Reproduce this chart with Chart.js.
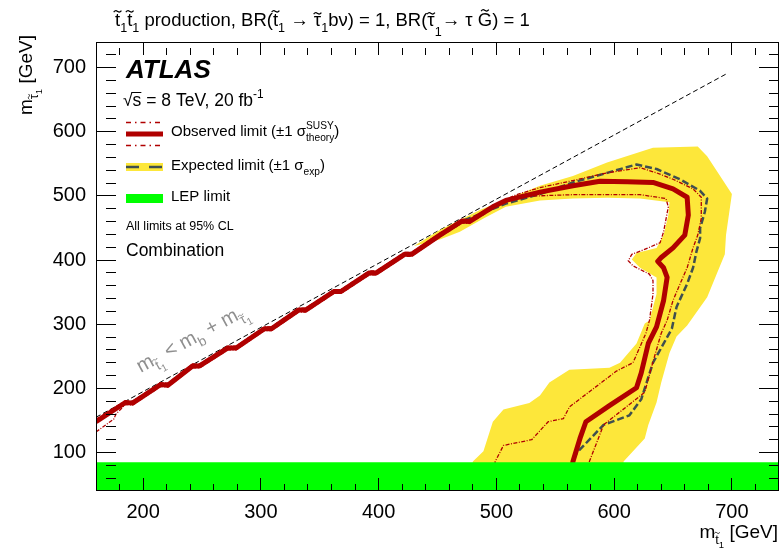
<!DOCTYPE html>
<html><head><meta charset="utf-8">
<script src="https://cdn.jsdelivr.net/npm/chart.js@4.4.0/dist/chart.umd.min.js"></script>
<style>html,body{margin:0;padding:0;background:#fff}#wrap{width:781px;height:555px}</style>
</head><body><div id="wrap"><canvas id="c" width="781" height="555"></canvas></div>
<script>
// ---- data (GeV) ----
const xTicks = [200, 300, 400, 500, 600, 700];
const yTicks = [100, 200, 300, 400, 500, 600, 700];
const xMinorTicks = [180, 220, 240, 260, 280, 320, 340, 360, 380, 420, 440, 460, 480, 520, 540, 560, 580, 620, 640, 660, 680, 720];
const yMinorTicks = [60, 80, 120, 140, 160, 180, 220, 240, 260, 280, 320, 340, 360, 380, 420, 440, 460, 480, 520, 540, 560, 580, 620, 640, 660, 680, 720];
const xRange = [160, 740];
const yRange = [40, 740];
const lepLimit = [[160, 85], [740, 85]];
const kinematicLimit = [[160, 155], [695, 690]];
const observed = [[160,148],[185,178],[191,177],[215,206],[221,205],[242,235],[248,235],[272,263],[279,263],[303,293],[309,293],[332,322],[338,322],[362,351],[368,351],[392,380],[398,380],[422,409],[428,409],[452,439],[471,461],[477,460],[497,483],[508,493],[537,506],[565,516],[588,523],[611,522],[633,521],[650,511],[662,498],[663,470],[660,439],[650,419],[640,404],[637,398],[642,388],[645,373],[642,337],[636,296],[629,270],[623,224],[619,201],[596,173],[576,148],[571,122],[565,86],[562,40]];
const observedPlus1 = [[160,152],[185,181],[191,180],[215,209],[221,208],[242,238],[248,238],[272,266],[279,266],[303,296],[309,296],[332,325],[338,325],[362,354],[368,354],[392,383],[398,383],[422,412],[428,412],[452,442],[471,463],[477,463],[497,485],[517,502],[537,513],[565,524],[594,536],[622,544],[636,536],[650,526],[667,511],[674,498],[674,465],[671,439],[667,419],[662,388],[656,363],[650,337],[645,306],[640,286],[632,235],[626,194],[591,143],[579,86],[576,40]];
const observedMinus1 = [[160,132],[175,152],[177,160],[185,175],[191,174],[215,203],[221,202],[242,232],[248,232],[272,260],[279,260],[303,290],[309,290],[332,319],[338,319],[362,348],[368,348],[392,377],[398,377],[422,406],[428,406],[452,436],[471,458],[477,457],[497,480],[517,499],[565,502],[622,502],[644,496],[646,483],[642,444],[639,427],[625,416],[615,409],[612,399],[616,391],[630,378],[633,368],[633,347],[630,306],[627,286],[622,265],[616,240],[602,227],[562,171],[557,153],[544,148],[530,120],[506,111],[499,86],[497,40]];
const expected = [[160,148],[185,178],[191,177],[215,206],[221,205],[242,235],[248,235],[272,263],[279,263],[303,293],[309,293],[332,322],[338,322],[362,351],[368,351],[392,380],[398,380],[422,409],[428,409],[452,439],[471,461],[488,473],[508,488],[537,503],[565,521],[594,536],[619,549],[636,542],[656,526],[673,508],[679,496],[677,475],[673,450],[673,434],[670,414],[667,388],[662,363],[653,327],[649,293],[633,240],[623,183],[613,158],[591,143],[568,99],[565,86],[564,40]];
const expectedBand = [[430,422],[452,447],[486,478],[537,516],[565,531],[594,552],[633,575],[671,577],[679,562],[700,503],[695,439],[694,409],[687,378],[679,342],[662,298],[653,281],[647,255],[640,209],[636,178],[629,143],[626,122],[608,86],[606,40],[478,40],[480,86],[489,102],[497,148],[506,167],[528,177],[537,189],[545,209],[562,229],[596,232],[605,240],[619,270],[626,301],[630,306],[636,347],[636,373],[622,388],[615,401],[619,411],[636,419],[642,439],[646,470],[647,490],[622,496],[594,497],[565,496],[537,493],[508,483],[489,465],[469,444],[452,432],[430,422]];

const FONT = "'Liberation Sans', Arial, Helvetica, sans-serif";
const xy = a => a.map(p => ({x: p[0], y: p[1]}));
const allX = xTicks.concat(xMinorTicks).sort((a, b) => a - b);
const allY = yTicks.concat(yMinorTicks).sort((a, b) => a - b);

function drawTilde(ctx, cx, cy, w, a, lw) {
  ctx.save();
  ctx.setLineDash([]);
  ctx.lineWidth = lw;
  ctx.beginPath();
  ctx.moveTo(cx - w / 2, cy + a * 0.6);
  ctx.bezierCurveTo(cx - w / 4, cy - a * 1.6, cx - w / 8, cy - a * 0.6, cx, cy);
  ctx.bezierCurveTo(cx + w / 8, cy + a * 0.6, cx + w / 4, cy + a * 1.6, cx + w / 2, cy - a * 0.6);
  ctx.stroke();
  ctx.restore();
}

// runs: {t, lv (0 normal, -1 sub, -2 subsub, 1 sup), tilde, hold, style, dy}
function drawRich(ctx, x, y, runs, size, color, measureOnly) {
  ctx.save();
  ctx.fillStyle = color; ctx.strokeStyle = color;
  ctx.textBaseline = 'alphabetic'; ctx.textAlign = 'left';
  let cx = x, hold = null;
  for (const r of runs) {
    const lv = r.lv || 0;
    const sc = lv === 0 ? 1 : (Math.abs(lv) === 1 ? 0.68 : 0.5);
    let dy = lv === 0 ? 0 : lv === 1 ? -0.45 * size : lv === -1 ? 0.3 * size : 0.5 * size;
    dy += (r.dy || 0);
    const fs = size * sc;
    ctx.font = (r.style || '') + ' ' + fs + 'px ' + FONT;
    const m = ctx.measureText(r.t);
    if (!measureOnly) {
      ctx.fillText(r.t, cx, y + dy);
      if (r.tilde) {
        const asc = m.actualBoundingBoxAscent;
        drawTilde(ctx, cx + m.width / 2, y + dy - asc - 0.14 * fs, fs * 0.42, fs * 0.06, Math.max(0.8, fs * 0.065));
      }
      if (r.over) {
        ctx.save(); ctx.lineWidth = 1;
        ctx.beginPath(); ctx.moveTo(cx - 1, y + dy - r.over); ctx.lineTo(cx + m.width, y + dy - r.over); ctx.stroke();
        ctx.restore();
      }
    }
    if (r.hold) { hold = {x: cx, w: m.width}; }
    else if (hold) { cx = hold.x + Math.max(hold.w, m.width); hold = null; }
    else cx += m.width;
  }
  ctx.restore();
  return cx - x;
}

function drawFrame(ctx, chart) {
  const xs = chart.scales.x, ys = chart.scales.y;
  const L0 = Math.round(xs.getPixelForValue(xRange[0]));
  const R0 = Math.round(xs.getPixelForValue(xRange[1]));
  const T0 = Math.round(ys.getPixelForValue(yRange[1]));
  const B0 = Math.round(ys.getPixelForValue(yRange[0]));
  ctx.save();
  ctx.fillStyle = '#000000';
  ctx.fillRect(L0, T0, R0 - L0, 1);
  ctx.fillRect(L0, B0 - 1, R0 - L0, 1);
  ctx.fillRect(L0, T0, 1, B0 - T0);
  ctx.fillRect(R0 - 1, T0, 1, B0 - T0);
  ctx.restore();
}

const decorations = {
  id: 'decorations',
  afterDraw(chart) {
    const ctx = chart.ctx;
    const xs = chart.scales.x, ys = chart.scales.y;
    drawFrame(ctx, chart);

    ctx.save();
    // title
    drawRich(ctx, 115, 26, [
      {t: 't', tilde: 1}, {t: '1', lv: -1}, {t: 't', tilde: 1}, {t: '1', lv: -1},
      {t: ' production, BR('}, {t: 't', tilde: 1}, {t: '1', lv: -1}, {t: ' \u2192 '},
      {t: '\u03c4', tilde: 1}, {t: '1', lv: -1}, {t: 'b\u03bd) = 1, BR('},
      {t: '\u03c4', tilde: 1}, {t: '1', lv: -1, dy: 4}, {t: '\u2192 \u03c4 '}, {t: 'G', tilde: 1}, {t: ') = 1'}
    ], 18.5, '#000');

    // ATLAS block
    drawRich(ctx, 126, 78, [{t: 'ATLAS', style: 'italic bold'}], 26, '#000');
    drawRich(ctx, 123, 106, [{t: '\u221a'}, {t: 's', over: 13.5}, {t: ' = 8 TeV, 20 fb'}, {t: '-1', lv: 1}], 17.5, '#000');

    // legend samples
    const lx0 = 126, lx1 = 163;
    ctx.lineCap = 'butt';
    ctx.strokeStyle = '#b00000'; ctx.lineWidth = 1.4; ctx.setLineDash([5, 4, 1.5, 4]);
    ctx.beginPath(); ctx.moveTo(lx0, 122.5); ctx.lineTo(lx1, 122.5); ctx.moveTo(lx0, 145.5); ctx.lineTo(lx1, 145.5); ctx.stroke();
    ctx.setLineDash([]); ctx.lineWidth = 5;
    ctx.beginPath(); ctx.moveTo(lx0, 134); ctx.lineTo(lx1, 134); ctx.stroke();
    ctx.fillStyle = '#fde73a'; ctx.fillRect(lx0, 163, lx1 - lx0, 8);
    ctx.strokeStyle = '#3f4f4f'; ctx.lineWidth = 2.5; ctx.setLineDash([13, 10]);
    ctx.beginPath(); ctx.moveTo(lx0, 167); ctx.lineTo(lx1, 167); ctx.stroke();
    ctx.setLineDash([]);
    ctx.fillStyle = '#00ff00'; ctx.fillRect(lx0, 194, lx1 - lx0, 9);

    drawRich(ctx, 171, 136, [{t: 'Observed limit (\u00b11 \u03c3'}, {t: 'SUSY', lv: 1, hold: 1}, {t: 'theory', lv: -1}, {t: ')'}], 15, '#000');
    drawRich(ctx, 171, 170, [{t: 'Expected limit (\u00b11 \u03c3'}, {t: 'exp', lv: -1}, {t: ')'}], 15, '#000');
    drawRich(ctx, 171, 201, [{t: 'LEP limit'}], 15, '#000');
    drawRich(ctx, 126, 230, [{t: 'All limits at 95% CL'}], 12.5, '#000');
    drawRich(ctx, 126, 256, [{t: 'Combination'}], 17.5, '#000');

    // kinematic limit label (rotated along the diagonal)
    const px1 = xs.getPixelForValue(160), py1 = ys.getPixelForValue(155);
    const px2 = xs.getPixelForValue(695), py2 = ys.getPixelForValue(690);
    const ang = Math.atan2(py2 - py1, px2 - px1);
    ctx.save();
    ctx.translate(xs.getPixelForValue(198), ys.getPixelForValue(224));
    ctx.rotate(ang);
    drawRich(ctx, 0, 0, [{t: 'm'}, {t: 't', lv: -1, tilde: 1}, {t: '1', lv: -2}, {t: ' < m'}, {t: 'b', lv: -1}, {t: ' + m'}, {t: '\u03c4', lv: -1, tilde: 1}, {t: '1', lv: -2}], 20, '#8f8f8f');
    ctx.restore();

    // axis titles
    const xt = [{t: 'm'}, {t: 't', lv: -1, tilde: 1}, {t: '1', lv: -2}, {t: ' [GeV]'}];
    const wx = drawRich(ctx, 0, 0, xt, 19, '#000', true);
    drawRich(ctx, 778 - wx, 538, xt, 19, '#000');
    const yt = [{t: 'm'}, {t: '\u03c4', lv: -1, tilde: 1}, {t: '1', lv: -2}, {t: ' [GeV]'}];
    const wy = drawRich(ctx, 0, 0, yt, 19, '#000', true);
    ctx.save();
    ctx.translate(32, 35); ctx.rotate(-Math.PI / 2);
    drawRich(ctx, -wy, 0, yt, 19, '#000');
    ctx.restore();

    ctx.restore();
  }
};

const lineDefaults = {pointRadius: 0, tension: 0, fill: false, borderJoinStyle: 'round', xAxisID: 'x', yAxisID: 'y'};

// inward tick marks drawn by Chart.js itself (negative tick length), minor ticks shortened by a dash pattern
const xGrid = {display: true, drawOnChartArea: false, drawTicks: true, tickLength: -13, z: 1,
  color: '#000', tickColor: '#000', tickWidth: 1,
  tickBorderDash: c => (c.tick && xTicks.includes(c.tick.value)) ? [] : [7, 100]};
const yGrid = {display: true, drawOnChartArea: false, drawTicks: true, tickLength: -20, z: 1,
  color: '#000', tickColor: '#000', tickWidth: 1,
  tickBorderDash: c => (c.tick && yTicks.includes(c.tick.value)) ? [] : [10, 100]};

new Chart(document.getElementById('c'), {
  type: 'line',
  data: {
    datasets: [
      Object.assign({}, lineDefaults, {label: 'LEP limit', data: xy(lepLimit), fill: 'start', backgroundColor: '#00ff00', borderColor: 'rgba(0,0,0,0)', borderWidth: 0}),
      Object.assign({}, lineDefaults, {label: 'Observed', data: xy(observed), borderColor: '#b00000', borderWidth: 5}),
      Object.assign({}, lineDefaults, {label: 'Observed +1 sigma', data: xy(observedPlus1), borderColor: '#b00000', borderWidth: 1.3, borderDash: [4, 1.5, 1, 1.5]}),
      Object.assign({}, lineDefaults, {label: 'Observed -1 sigma', data: xy(observedMinus1), borderColor: '#b00000', borderWidth: 1.3, borderDash: [4, 1.5, 1, 1.5]}),
      Object.assign({}, lineDefaults, {label: 'Expected', data: xy(expected), borderColor: '#3f4f4f', borderWidth: 2.5, borderDash: [7, 3]}),
      Object.assign({}, lineDefaults, {label: 'Expected band', data: xy(expectedBand), fill: 'shape', backgroundColor: '#fde73a', borderColor: 'rgba(0,0,0,0)', borderWidth: 0}),
      Object.assign({}, lineDefaults, {label: 'Kinematic limit', data: xy(kinematicLimit), borderColor: '#000', borderWidth: 1, borderDash: [5, 3]})
    ]
  },
  options: {
    responsive: false, animation: false, devicePixelRatio: 1,
    layout: {padding: {top: 35, right: 2, left: 0, bottom: 0}},
    plugins: {legend: {display: false}, tooltip: {enabled: false}, title: {display: false}},
    scales: {
      x: {
        type: 'linear', position: 'bottom', min: xRange[0], max: xRange[1],
        afterFit: s => { s.height = 64; },
        afterBuildTicks: s => { s.ticks = allX.map(v => ({value: v})); },
        grid: xGrid, border: {display: false},
        ticks: {font: {family: FONT, size: 20}, color: '#000', padding: 22, maxRotation: 0, autoSkip: false,
          callback: v => xTicks.includes(v) ? String(v) : ''}
      },
      y: {
        type: 'linear', position: 'left', min: yRange[0], max: yRange[1],
        afterFit: s => { s.width = 96; },
        afterBuildTicks: s => { s.ticks = allY.map(v => ({value: v})); },
        grid: yGrid, border: {display: false},
        ticks: {font: {family: FONT, size: 20}, color: '#000', padding: 30, autoSkip: false,
          callback: v => yTicks.includes(v) ? String(v) : ''}
      },
      x2: {
        type: 'linear', axis: 'x', position: 'top', min: xRange[0], max: xRange[1],
        afterFit: s => { s.height = 0; },
        afterBuildTicks: s => { s.ticks = allX.map(v => ({value: v})); },
        grid: xGrid, border: {display: false},
        ticks: {display: false}
      },
      y2: {
        type: 'linear', axis: 'y', position: 'right', min: yRange[0], max: yRange[1],
        afterFit: s => { s.width = 0; },
        afterBuildTicks: s => { s.ticks = allY.map(v => ({value: v})); },
        grid: yGrid, border: {display: false},
        ticks: {display: false}
      }
    }
  },
  plugins: [decorations]
});
</script>
</body></html>
